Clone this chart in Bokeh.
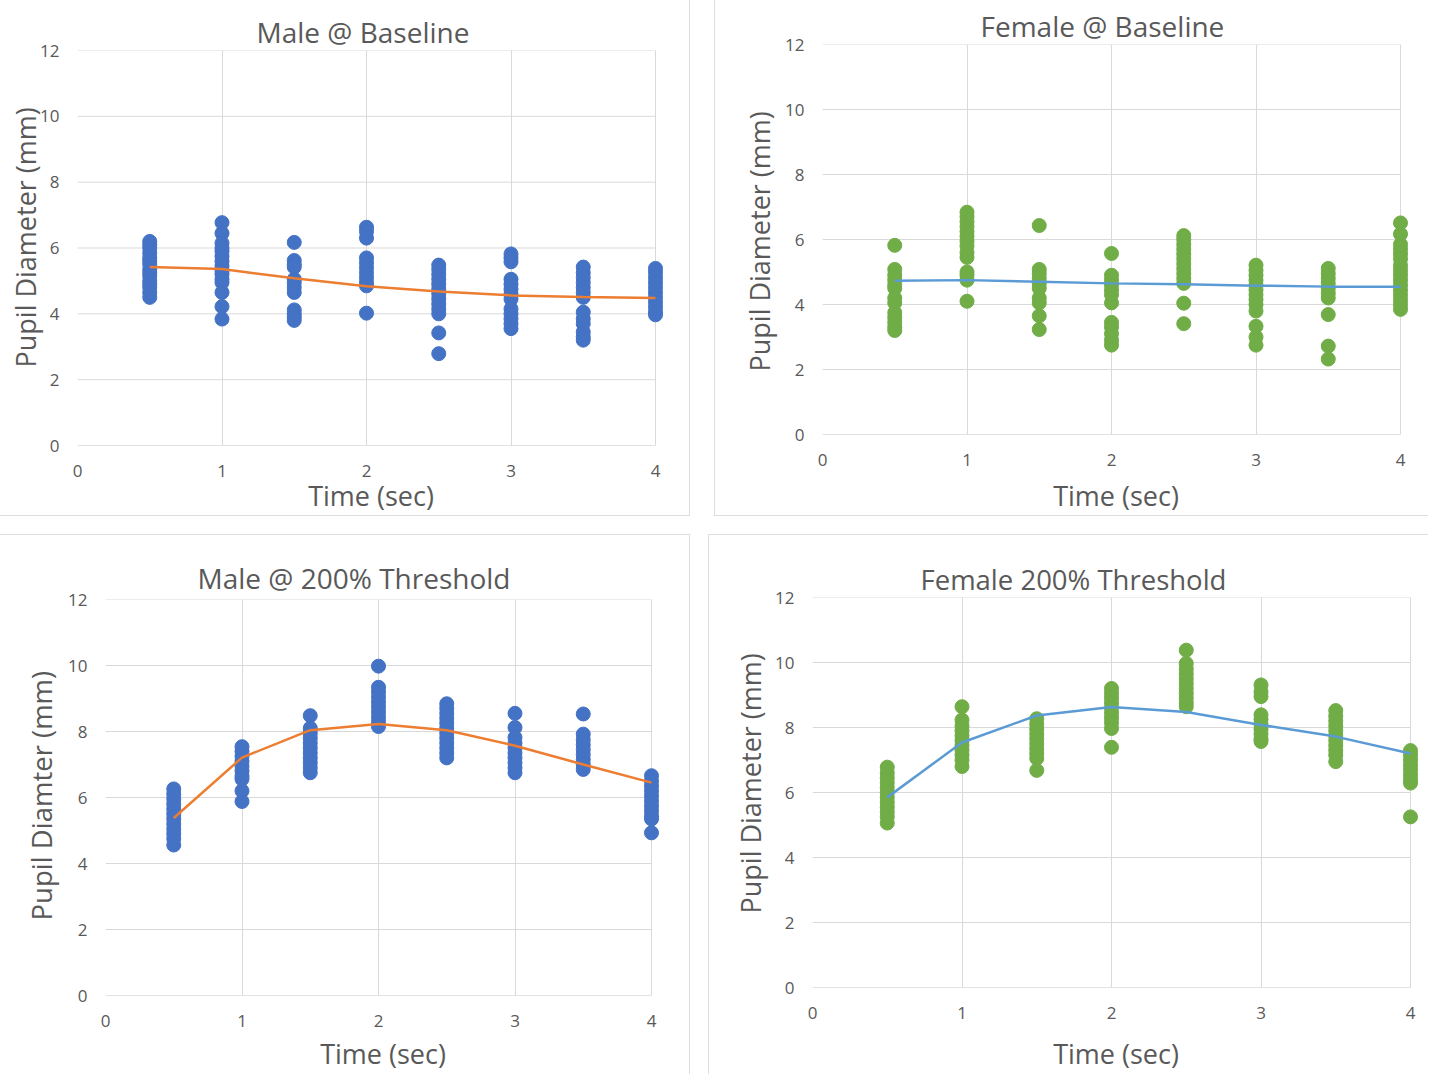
from bokeh.plotting import figure
from bokeh.layouts import column, row
from bokeh.models import Range1d, Title
from bokeh.embed import file_html
from bokeh.resources import INLINE

# ---------------- data ----------------
times = [0.5, 1.0, 1.5, 2.0, 2.5, 3.0, 3.5, 4.0]
x_ticks = [0, 1, 2, 3, 4]
y_ticks = [0, 2, 4, 6, 8, 10, 12]

male_base_pts = [
    [6.2, 6.1, 6.0, 5.85, 5.7, 5.6, 5.5, 5.35, 5.25, 5.15, 5.0, 4.9, 4.8, 4.65, 4.5],
    [6.77, 6.45, 6.15, 6.0, 5.9, 5.75, 5.6, 5.45, 5.3, 5.2, 5.05, 4.95, 4.65, 4.22, 3.84],
    [6.17, 5.62, 5.5, 5.42, 5.05, 4.95, 4.8, 4.65, 4.12, 4.0, 3.9, 3.8],
    [6.63, 6.5, 6.3, 5.7, 5.55, 5.4, 5.25, 5.1, 4.95, 4.85, 4.02],
    [5.48, 5.35, 5.2, 5.05, 4.9, 4.75, 4.6, 4.45, 4.3, 4.15, 4.0, 3.42, 2.79],
    [5.82, 5.7, 5.58, 5.05, 4.9, 4.75, 4.6, 4.45, 4.15, 4.0, 3.85, 3.7, 3.55],
    [5.42, 5.25, 5.1, 4.95, 4.8, 4.65, 4.5, 4.05, 3.85, 3.7, 3.45, 3.3, 3.2],
    [5.38, 5.25, 5.1, 4.95, 4.8, 4.65, 4.5, 4.35, 4.2, 4.05, 3.97],
]
male_base_line = [5.42, 5.36, 5.08, 4.84, 4.68, 4.56, 4.51, 4.48]

female_base_pts = [
    [5.82, 5.08, 4.9, 4.75, 4.6, 4.5, 4.2, 4.05, 3.75, 3.6, 3.45, 3.3, 3.2],
    [6.84, 6.7, 6.55, 6.4, 6.25, 6.1, 5.95, 5.8, 5.6, 5.45, 5.0, 4.9, 4.75, 4.1],
    [6.43, 5.08, 4.95, 4.8, 4.65, 4.5, 4.2, 4.05, 3.65, 3.23],
    [5.57, 4.9, 4.75, 4.6, 4.45, 4.3, 4.05, 3.45, 3.3, 3.1, 2.9, 2.75],
    [6.12, 6.0, 5.85, 5.7, 5.55, 5.4, 5.25, 5.1, 4.95, 4.8, 4.65, 4.04, 3.41],
    [5.21, 5.05, 4.9, 4.75, 4.6, 4.45, 4.3, 4.15, 4.0, 3.8, 3.33, 3.0, 2.75],
    [5.11, 4.95, 4.8, 4.65, 4.5, 4.35, 4.2, 3.69, 2.72, 2.32],
    [6.51, 6.17, 5.85, 5.7, 5.55, 5.4, 5.2, 5.05, 4.9, 4.75, 4.6, 4.45, 4.3, 4.15, 4.0, 3.85],
]
female_base_line = [4.73, 4.75, 4.7, 4.65, 4.62, 4.58, 4.55, 4.55]

male_thr_pts = [
    [6.26, 6.1, 5.95, 5.8, 5.65, 5.5, 5.35, 5.2, 5.05, 4.9, 4.75, 4.56],
    [7.54, 7.4, 7.25, 7.1, 6.95, 6.8, 6.65, 6.56, 6.2, 5.88],
    [8.48, 8.1, 7.95, 7.8, 7.65, 7.5, 7.35, 7.2, 7.05, 6.9, 6.75],
    [9.98, 9.34, 9.2, 9.05, 8.9, 8.75, 8.6, 8.45, 8.3, 8.15],
    [8.84, 8.7, 8.55, 8.4, 8.25, 8.1, 7.95, 7.8, 7.65, 7.5, 7.35, 7.2],
    [8.55, 8.12, 7.82, 7.65, 7.5, 7.35, 7.2, 7.05, 6.9, 6.75],
    [8.53, 7.92, 7.75, 7.6, 7.45, 7.3, 7.15, 7.0, 6.85],
    [6.66, 6.5, 6.35, 6.2, 6.05, 5.9, 5.75, 5.6, 5.45, 5.35, 4.93],
]
male_thr_line = [5.38, 7.21, 8.04, 8.23, 8.04, 7.57, 7.0, 6.45]

female_thr_pts = [
    [6.78, 6.6, 6.45, 6.3, 6.15, 6.0, 5.85, 5.7, 5.55, 5.4, 5.25, 5.06],
    [8.64, 8.23, 8.05, 7.9, 7.75, 7.6, 7.45, 7.3, 7.15, 7.0, 6.8],
    [8.27, 8.1, 7.95, 7.8, 7.65, 7.5, 7.35, 7.2, 7.05, 6.68],
    [9.2, 9.05, 8.9, 8.75, 8.6, 8.45, 8.3, 8.15, 7.97, 7.39],
    [10.38, 9.97, 9.8, 9.65, 9.5, 9.35, 9.2, 9.05, 8.9, 8.75, 8.64],
    [9.31, 9.1, 8.95, 8.39, 8.25, 8.1, 7.95, 7.8, 7.65, 7.57],
    [8.52, 8.35, 8.2, 8.05, 7.9, 7.75, 7.6, 7.45, 7.3, 7.15, 6.95],
    [7.29, 7.15, 7.0, 6.85, 6.7, 6.55, 6.4, 6.29, 5.25],
]
female_thr_line = [5.85, 7.54, 8.37, 8.63, 8.48, 8.08, 7.72, 7.2]

# ---------------- styling ----------------
FONT = "Open Sans"
TXT = "#595959"
GRID = "#d9d9d9"
BLUE = "#4472C4"
ORANGE = "#ED7D31"
GREEN = "#70AD47"
LBLUE = "#5B9BD5"


def panel(title, ylabel, pts, trend, dot_color, line_color,
          w, h, L, R4, T, B, shadow, title_size, title_left, title_standoff,
          lab_size, ylab_size, ylab_bottom, ylab_standoff, xlab_standoff):
    right = w - R4 - 9
    frame_w = w - L - right
    x_end = 4.0 * frame_w / (R4 - L)
    p = figure(width=w, height=h, output_backend="svg", toolbar_location=None,
               x_range=Range1d(0, x_end), y_range=Range1d(0, 12),
               min_border_left=L, min_border_right=right,
               min_border_top=T, min_border_bottom=B,
               outline_line_color=None, background_fill_color="white",
               border_fill_color=None,
               styles={"box-shadow": shadow})
    p.title.text = title
    p.title.align = "left"
    p.title.text_font = FONT
    p.title.text_font_size = f"{title_size}px"
    p.title.text_font_style = "normal"
    p.title.text_color = TXT
    p.title.offset = title_left - L
    p.title.standoff = title_standoff

    # grid
    p.ygrid.visible = False
    p.xgrid.ticker = x_ticks
    p.xgrid.grid_line_color = GRID
    p.xgrid.grid_line_width = 1
    hcols = ["#c6c6c6" if t == 0 else GRID for t in y_ticks]
    p.segment(x0=[0] * len(y_ticks), x1=[4] * len(y_ticks), y0=y_ticks, y1=y_ticks,
              line_color=hcols, line_width=1)

    for ax in (p.xaxis[0], p.yaxis[0]):
        ax.axis_line_color = None
        ax.major_tick_line_color = None
        ax.minor_tick_line_color = None
        ax.major_tick_out = 0
        ax.major_tick_in = 0
        ax.major_label_text_font = FONT
        ax.major_label_text_font_size = "17px"
        ax.major_label_text_color = TXT
        ax.axis_label_text_font = FONT
        ax.axis_label_text_font_size = f"{lab_size}px"
        ax.axis_label_text_font_style = "normal"
        ax.axis_label_text_color = TXT
    p.xaxis.ticker = x_ticks
    p.yaxis.ticker = y_ticks
    p.xaxis.major_label_standoff = 19
    p.yaxis.major_label_standoff = 18
    p.xaxis.axis_label = "Time (sec)"
    p.xaxis.axis_label_standoff = xlab_standoff

    # y-axis title as a left-side title so it can be shifted along the axis
    yt = Title(text=ylabel, align="left", offset=ylab_bottom,
               standoff=ylab_standoff, text_font=FONT,
               text_font_size=f"{ylab_size}px", text_font_style="normal",
               text_color=TXT)
    p.add_layout(yt, "left")

    xs, ys = [], []
    for t, col in zip(times, pts):
        for v in col:
            xs.append(t)
            ys.append(v)
    p.scatter(xs, ys, size=14, fill_color=dot_color, line_color=dot_color)
    p.line(times, trend, line_color=line_color, line_width=2.5)
    return p


EDGE = "#dedede"
pA = panel("Male @ Baseline", "Pupil Diameter (mm)", male_base_pts, male_base_line,
           BLUE, ORANGE, w=690, h=516, L=77, R4=655, T=50, B=70,
           shadow=f"inset -1px -1px 0 0 {EDGE}",
           title_size=28, title_left=256, title_standoff=0,
           lab_size=27, ylab_size=27, ylab_bottom=78, ylab_standoff=-13,
           xlab_standoff=-3)
pB = panel("Female @ Baseline", "Pupil Diameter (mm)", female_base_pts, female_base_line,
           GREEN, LBLUE, w=714, h=516, L=108, R4=686, T=44, B=81,
           shadow=f"inset 1px -1px 0 0 {EDGE}",
           title_size=28, title_left=980 - 714, title_standoff=0,
           lab_size=27, ylab_size=27, ylab_bottom=63, ylab_standoff=10,
           xlab_standoff=8)
pC = panel("Male @ 200% Threshold", "Pupil Diamter (mm)", male_thr_pts, male_thr_line,
           BLUE, ORANGE, w=690, h=540, L=105, R4=651, T=65, B=78,
           shadow=f"inset -1px 1px 0 0 {EDGE}",
           title_size=28, title_left=197, title_standoff=6,
           lab_size=27, ylab_size=27.5, ylab_bottom=75, ylab_standoff=12,
           xlab_standoff=5)
pD = panel("Female 200% Threshold", "Pupil Diameter (mm)", female_thr_pts, female_thr_line,
           GREEN, LBLUE, w=720, h=540, L=104, R4=702, T=63, B=86,
           shadow=f"inset 1px 1px 0 0 {EDGE}",
           title_size=27.5, title_left=920 - 708, title_standoff=0,
           lab_size=27, ylab_size=27, ylab_bottom=74, ylab_standoff=8,
           xlab_standoff=13)

layout = column(row(column(pA), column(pB), spacing=24),
                row(column(pC), column(pD), spacing=18), spacing=18)

open("out.html", "w").write(file_html(layout, INLINE))
